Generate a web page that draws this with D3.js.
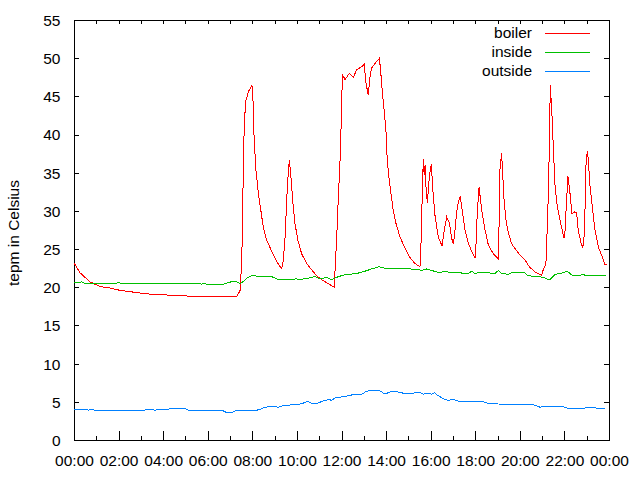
<!DOCTYPE html>
<html>
<head>
<meta charset="utf-8">
<script src="https://cdn.jsdelivr.net/npm/d3@7"></script>
<style>
  html, body { margin: 0; padding: 0; background: #fff; }
  svg { display: block; }
  text { font-family: "Liberation Sans", Arial, sans-serif; font-size: 15.5px; fill: #000; }
</style>
</head>
<body>
<svg id="chart" width="640" height="480"></svg>
<script>
// ---- data (time in hours since 00:00, temperature in Celsius) ----
const seriesNames = ["boiler", "inside", "outside"];
const seriesColors = ["#ff0000", "#00c000", "#0080ff"];

const boilerTimes = [0.00,0.27,0.72,1.17,1.61,2.06,2.83,3.41,4.44,5.43,7.31,7.45,7.52,7.57,7.59,7.64,7.70,7.82,7.97,8.02,8.04,8.09,8.16,8.27,8.38,8.49,8.64,8.87,9.09,9.32,9.39,9.47,9.54,9.61,9.66,9.69,9.73,9.81,9.91,10.04,10.21,10.44,10.66,10.89,11.11,11.39,11.69,11.71,11.78,11.86,11.93,11.98,12.02,12.05,12.16,12.35,12.53,12.68,12.91,13.02,13.10,13.20,13.28,13.35,13.50,13.65,13.70,13.76,13.83,13.92,14.00,14.05,14.14,14.22,14.32,14.44,14.62,14.85,15.07,15.30,15.52,15.55,15.60,15.67,15.71,15.75,15.79,15.85,15.94,16.03,16.09,16.19,16.34,16.51,16.61,16.72,16.84,16.94,17.02,17.06,17.17,17.24,17.32,17.39,17.54,17.69,17.84,17.99,18.03,18.09,18.17,18.21,18.29,18.44,18.59,18.81,19.04,19.06,19.11,19.18,19.23,19.29,19.39,19.48,19.63,19.83,20.01,20.23,20.42,20.68,20.98,21.05,21.17,21.21,21.28,21.32,21.35,21.37,21.40,21.43,21.50,21.58,21.68,21.80,21.90,21.98,22.03,22.10,22.16,22.19,22.25,22.34,22.47,22.55,22.62,22.73,22.82,22.88,22.92,22.97,23.03,23.07,23.15,23.27,23.37,23.52,23.72,23.82,23.91];
const boilerValues = [23.2,21.9,20.7,20.1,19.9,19.6,19.3,19.1,18.95,18.8,18.8,19.6,23.2,29.2,35.4,41.3,44.3,45.6,46.4,46.3,42.6,38.9,35.4,32.3,30.1,27.9,26.2,24.7,23.4,22.4,23.6,26.6,31.4,34.9,36.7,35.8,34.5,31.4,28.4,26.2,24.4,23.1,22.3,21.5,21.0,20.5,20.0,22.3,26.2,31.9,36.2,40.8,45.6,47.8,47.2,48.0,47.5,48.5,48.9,49.2,46.7,45.2,47.6,48.7,49.3,49.8,50.0,48.2,45.6,43.0,40.2,36.7,34.0,32.3,30.1,28.4,26.6,25.1,23.9,23.1,22.7,23.8,29.7,36.8,34.7,36.0,33.2,31.0,34.5,36.1,33.0,29.5,26.6,25.4,27.5,29.2,28.4,26.4,25.7,26.6,29.9,31.2,31.9,30.6,27.5,25.8,24.7,23.8,25.3,29.7,33.1,32.1,30.1,27.5,25.5,24.4,23.7,27.0,35.4,37.6,34.9,31.5,28.5,27.2,25.7,24.9,24.2,23.6,22.7,22.0,21.6,22.3,23.1,26.2,32.3,38.0,43.6,46.5,44.7,43.4,38.4,33.2,30.6,28.8,27.5,26.4,27.5,31.6,34.5,33.8,32.3,29.6,29.9,29.7,27.5,26.0,25.1,26.6,29.7,36.2,37.9,36.7,33.2,30.1,27.5,25.3,23.8,23.0,22.9];

const insideTimes = [0.00,0.35,0.49,1.88,1.99,2.14,5.58,5.73,5.83,5.95,6.70,6.92,7.15,7.30,7.45,7.57,7.75,7.97,8.87,9.16,9.61,9.99,10.14,10.51,10.81,11.04,11.34,11.56,11.78,12.08,12.38,12.68,13.05,13.35,13.68,13.95,14.70,15.07,15.45,15.60,15.82,16.05,16.27,16.39,16.64,16.94,17.24,17.46,17.67,17.84,17.99,18.29,18.88,19.04,19.19,19.49,19.71,20.16,20.38,20.83,21.05,21.21,21.35,21.58,21.95,22.13,22.33,22.62,22.82,23.00,23.87];
const insideValues = [20.6,20.7,20.5,20.5,20.6,20.5,20.5,20.4,20.5,20.4,20.4,20.6,20.8,20.7,20.5,20.7,21.2,21.5,21.4,21.0,21.0,21.1,21.0,21.2,21.4,21.1,21.3,21.0,21.3,21.6,21.7,21.8,22.1,22.4,22.7,22.5,22.4,22.4,22.3,22.2,22.4,22.2,22.0,21.9,22.1,21.9,22.0,21.8,21.8,22.1,21.8,22.0,21.8,22.2,21.8,21.7,22.0,22.0,21.5,21.4,21.3,21.1,21.0,21.7,21.9,22.1,21.6,21.5,21.7,21.5,21.5];

const outsideTimes = [0.00,0.57,0.64,0.79,0.94,2.36,2.44,3.04,3.11,3.41,3.63,3.78,4.23,4.31,4.98,5.13,5.43,6.70,6.85,7.07,7.30,7.45,7.59,8.20,8.42,8.57,8.94,9.16,9.39,9.61,9.84,10.14,10.36,10.47,10.66,10.89,11.18,11.41,11.56,11.71,11.93,12.08,12.38,12.53,12.68,12.91,13.13,13.58,13.70,13.95,14.18,14.32,14.70,14.77,15.22,15.30,15.52,15.67,15.82,16.05,16.16,16.34,16.57,16.79,17.02,17.24,18.07,18.36,18.59,19.11,19.93,20.60,20.75,20.90,21.05,21.95,22.03,22.78,23.08,23.37,23.45,23.82];
const outsideValues = [4.0,4.0,3.9,4.0,3.9,3.9,3.8,3.8,3.9,4.0,3.9,4.0,4.0,4.1,4.1,3.9,3.8,3.8,3.6,3.6,3.9,3.8,3.9,3.9,4.1,4.3,4.4,4.3,4.5,4.5,4.7,4.7,4.9,5.1,4.8,4.8,5.1,5.3,5.2,5.5,5.6,5.7,5.8,6.0,5.9,6.0,6.4,6.5,6.5,6.0,6.3,6.4,6.2,6.1,6.1,6.2,6.2,6.0,6.1,6.0,6.2,5.8,5.4,5.2,5.3,5.1,5.1,5.0,4.8,4.7,4.6,4.6,4.5,4.3,4.4,4.4,4.2,4.1,4.3,4.3,4.1,4.1];

const xTickHours = [0,2,4,6,8,10,12,14,16,18,20,22,24];
const xTickLabels = ["00:00","02:00","04:00","06:00","08:00","10:00","12:00","14:00","16:00","18:00","20:00","22:00","00:00"];
const xMinorHours = [1,3,5,7,9,11,13,15,17,19,21,23];
const yTicks = [0,5,10,15,20,25,30,35,40,45,50,55];
const yLabel = "tepm in Celsius";

// ---- layout ----
const L = 74, R = 609, T = 20, B = 440;
const svg = d3.select("#chart");
const x = d3.scaleLinear().domain([0, 24]).range([L, R]);
const y = d3.scaleLinear().domain([0, 55]).range([B, T]);

// axes (gnuplot-like: inward ticks, mirrored)
const gBottom = svg.append("g").attr("transform", `translate(0,${B})`)
  .call(d3.axisBottom(x).tickValues(xTickHours).tickSizeInner(-9).tickSizeOuter(0)
        .tickFormat((d, i) => xTickLabels[i]).tickPadding(17));
const gBottomMinor = svg.append("g").attr("transform", `translate(0,${B})`)
  .call(d3.axisBottom(x).tickValues(xMinorHours).tickSizeInner(-4).tickSizeOuter(0).tickFormat(""));
const gTop = svg.append("g").attr("transform", `translate(0,${T})`)
  .call(d3.axisTop(x).tickValues(xTickHours.concat(xMinorHours)).tickSizeInner(-4).tickSizeOuter(0).tickFormat(""));
const gLeft = svg.append("g").attr("transform", `translate(${L},0)`)
  .call(d3.axisLeft(y).tickValues(yTicks).tickSizeInner(-5).tickSizeOuter(0).tickPadding(13));
const gRight = svg.append("g").attr("transform", `translate(${R},0)`)
  .call(d3.axisRight(y).tickValues(yTicks).tickSizeInner(-5).tickSizeOuter(0).tickFormat(""));

[gBottom, gBottomMinor, gTop, gLeft, gRight].forEach(g => {
  g.select(".domain").remove();
  g.selectAll("line").attr("stroke", "#000").attr("shape-rendering", "crispEdges");
  g.selectAll("text").attr("font-family", null).attr("font-size", null).attr("fill", "#000");
});
gBottom.selectAll("text").attr("dy", null).attr("y", 26);
gLeft.selectAll("text").attr("dy", "0.35em").attr("x", -13.5);

// border
svg.append("rect").attr("x", L).attr("y", T).attr("width", R - L).attr("height", B - T)
  .attr("fill", "none").attr("stroke", "#000").attr("stroke-width", 1).attr("shape-rendering", "crispEdges");

// y axis label
svg.append("text")
  .attr("transform", `translate(19,${(T + B) / 2 + 3}) rotate(-90)`)
  .attr("text-anchor", "middle")
  .text(yLabel);

// lines
const allSeries = [
  { name: seriesNames[0], times: boilerTimes, values: boilerValues, color: seriesColors[0] },
  { name: seriesNames[1], times: insideTimes, values: insideValues, color: seriesColors[1] },
  { name: seriesNames[2], times: outsideTimes, values: outsideValues, color: seriesColors[2] }
];
const line = d3.line().x(d => x(d[0])).y(d => y(d[1]));
allSeries.forEach(s => {
  svg.append("path")
    .datum(s.times.map((t, i) => [t, s.values[i]]))
    .attr("fill", "none")
    .attr("stroke", s.color)
    .attr("stroke-width", 1)
    .attr("shape-rendering", "crispEdges")
    .attr("d", line);
});

// legend
allSeries.forEach((s, i) => {
  const cy = 33 + i * 19;
  svg.append("text").attr("x", 532).attr("y", cy).attr("dy", "0.35em")
    .attr("text-anchor", "end").text(s.name);
  svg.append("line").attr("x1", 545).attr("x2", 590).attr("y1", cy + 0.5).attr("y2", cy + 0.5)
    .attr("stroke", s.color).attr("stroke-width", 1).attr("shape-rendering", "crispEdges");
});
</script>
</body>
</html>
